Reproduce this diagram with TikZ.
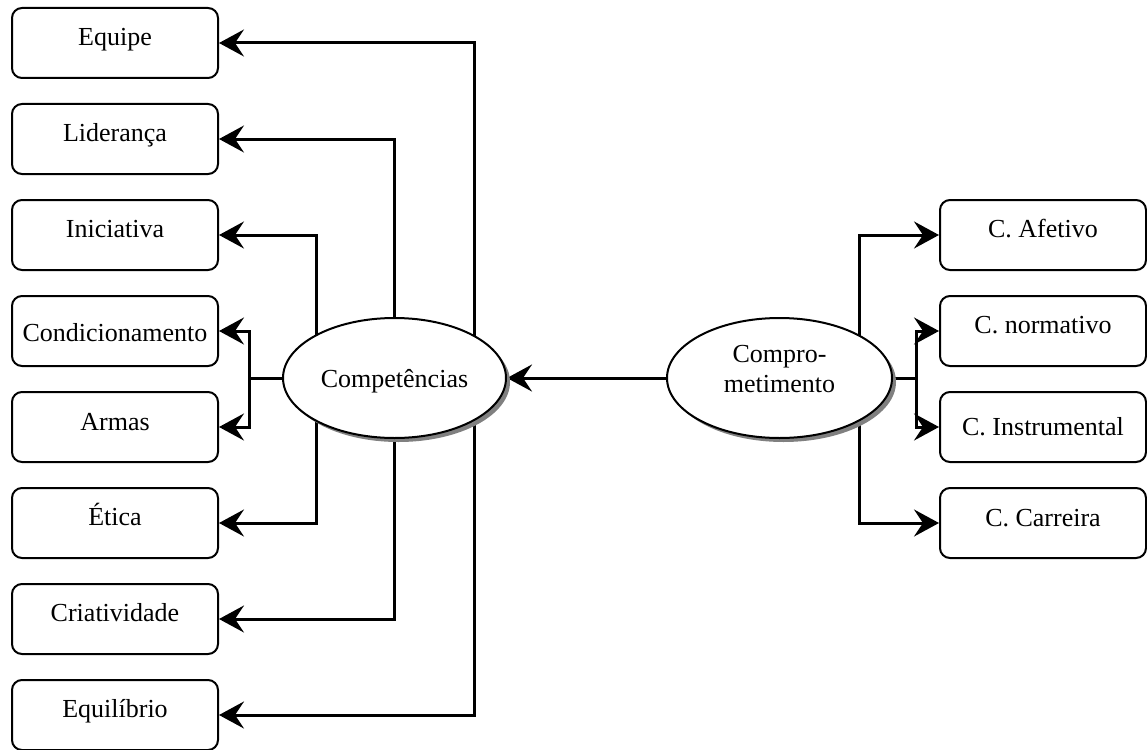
\documentclass[tikz,border=0pt]{standalone}
\usepackage{fontspec}
\setmainfont{Liberation Serif}
\usetikzlibrary{arrows.meta,shapes.geometric,shadows,backgrounds}
\newcommand\mylbl[2]{\raisebox{-#1pt}[0pt][0pt]{#2}}
\begin{document}
\begin{tikzpicture}[x=1pt,y=-1pt,
  box/.style={draw,line width=2pt,rounded corners=10pt,minimum width=206pt,minimum height=70pt,inner sep=0pt,fill=white,font=\fontsize{26}{30}\selectfont},
  oval/.style={ellipse,draw,line width=2pt,fill=white,inner sep=0pt,minimum height=120pt,font=\fontsize{26}{30}\selectfont,
    drop shadow={shadow xshift=4pt,shadow yshift=-4pt,fill=black!50,opacity=1}},
  arr/.style={line width=3pt,-{Stealth[length=25pt,width=27pt,inset=9pt]}}]
\useasboundingbox (0,0) rectangle (1147,749);
% left boxes
\node[box] (equipe) at (115,43)  {\mylbl{2.5}{Equipe}};
\node[box] (lider)  at (115,139) {\mylbl{2.5}{Liderança}};
\node[box] (inic)   at (115,235) {\mylbl{2.5}{Iniciativa}};
\node[box] (cond)   at (115,331) {\mylbl{10}{Condicionamento}};
\node[box] (armas)  at (115,427) {\mylbl{3}{Armas}};
\node[box] (etica)  at (115,523) {\mylbl{2.5}{Ética}};
\node[box] (crea)   at (115,619) {\mylbl{2.5}{Criatividade}};
\node[box] (equil)  at (115,715) {\mylbl{2}{Equilíbrio}};
% right boxes
\node[box] (afet)  at (1043,235) {\mylbl{2}{C. Afetivo}};
\node[box] (norm)  at (1043,331) {\mylbl{2}{C. normativo}};
\node[box] (instr) at (1043,427) {\mylbl{8.5}{C. Instrumental}};
\node[box] (carr)  at (1043,523) {\mylbl{3}{C. Carreira}};
% ellipses
\node[oval,minimum width=223pt] (comp) at (394.5,378) {\mylbl{9}{Competências}};
\node[oval,minimum width=225pt] (compr) at (779.5,378)
  {\raisebox{-14pt}[0pt][0pt]{\begin{tabular}[b]{@{}c@{}}Compro-\\metimento\end{tabular}}};
% connectors
\begin{scope}[on background layer]
\draw[arr] ([xshift=79.5pt]comp.center) |- (equipe.east);
\draw[arr] ([xshift=79.5pt]comp.center) |- (equil.east);
\draw[arr] (comp.center) |- (lider.east);
\draw[arr] (comp.center) |- (crea.east);
\draw[arr] ([xshift=-78.5pt]comp.center) |- (inic.east);
\draw[arr] ([xshift=-78.5pt]comp.center) |- (etica.east);
\draw[arr] (comp.west) -- ++(-33,0) |- (cond.east);
\draw[arr] (comp.west) -- ++(-33,0) |- (armas.east);
\draw[arr] (compr.west) -- (comp.east);
\draw[arr] ([xshift=79.5pt]compr.center) |- (afet.west);
\draw[arr] ([xshift=79.5pt]compr.center) |- (carr.west);
\draw[arr] (compr.east) -- ++(23,0) |- (norm.west);
\draw[arr] (compr.east) -- ++(23,0) |- (instr.west);
\end{scope}
\end{tikzpicture}
\end{document}
